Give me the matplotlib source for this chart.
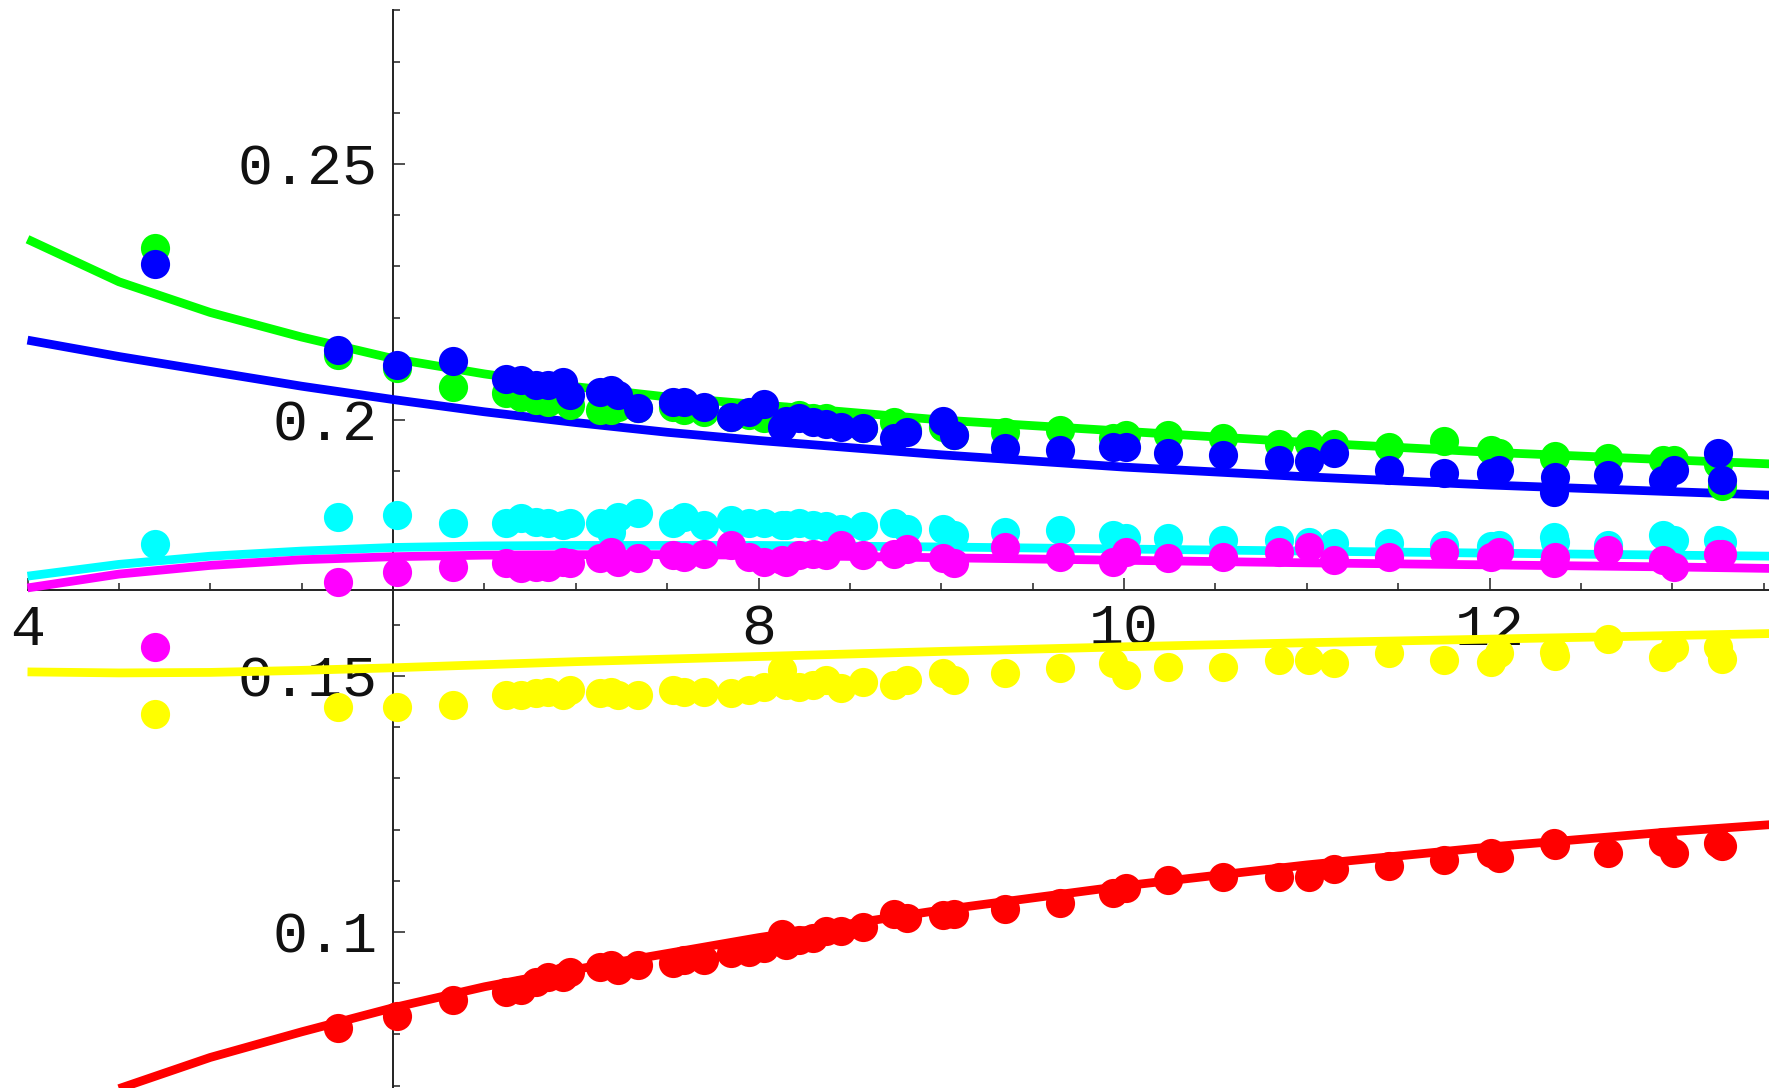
import numpy as np
import matplotlib as mpl
import matplotlib.pyplot as plt
from matplotlib.ticker import FixedLocator, MultipleLocator, FixedFormatter

'''
coupling fits: measured points and fitted curves for the six channels.
'''

# measured points (shared x, one list per channel)
xs = [4.70, 5.70, 6.02, 6.33, 6.62, 6.70, 6.78, 6.85, 6.93, 6.97,
      7.13, 7.19, 7.23, 7.34, 7.53, 7.59, 7.70, 7.85, 7.95, 8.03,
      8.13, 8.15, 8.22, 8.30, 8.37, 8.45, 8.57, 8.74, 8.81, 9.01,
      9.07, 9.35, 9.65, 9.94, 10.01, 10.24, 10.54, 10.85, 11.01, 11.15,
      11.45, 11.75, 12.01, 12.05, 12.35, 12.36, 12.65, 12.95, 13.01, 13.25,
      13.27]

green_pts = [0.2336, 0.2127, 0.2101, 0.2065, 0.2052, 0.2045, 0.2039, 0.2036, 0.2045, 0.2029,
             0.2019, 0.2019, 0.2026, 0.2023, 0.2026, 0.2019, 0.2016, 0.2006, 0.2010, 0.2003,
             0.1997, 0.2006, 0.2010, 0.2003, 0.2003, 0.1997, 0.1984, 0.1997, 0.1980, 0.1987,
             0.1971, 0.1977, 0.1980, 0.1964, 0.1971, 0.1971, 0.1964, 0.1954, 0.1954, 0.1954,
             0.1948, 0.1958, 0.1941, 0.1935, 0.1925, 0.1930, 0.1925, 0.1922, 0.1922, 0.1915,
             0.1871]

blue_pts = [0.2305, 0.2137, 0.2107, 0.2116, 0.2081, 0.2078, 0.2068, 0.2068, 0.2075, 0.2049,
            0.2055, 0.2058, 0.2049, 0.2023, 0.2036, 0.2036, 0.2026, 0.2006, 0.2016, 0.2032,
            0.1987, 0.1999, 0.2003, 0.1997, 0.1993, 0.1987, 0.1984, 0.1964, 0.1977, 0.1999,
            0.1971, 0.1945, 0.1941, 0.1948, 0.1948, 0.1935, 0.1932, 0.1922, 0.1919, 0.1935,
            0.1902, 0.1896, 0.1896, 0.1902, 0.1860, 0.1889, 0.1893, 0.1883, 0.1902, 0.1935,
            0.1883]

cyan_pts = [0.1758, 0.1811, 0.1814, 0.1798, 0.1799, 0.1808, 0.1801, 0.1798, 0.1795, 0.1798,
            0.1798, 0.1782, 0.1811, 0.1818, 0.1798, 0.1811, 0.1795, 0.1805, 0.1798, 0.1798,
            0.1795, 0.1795, 0.1798, 0.1795, 0.1792, 0.1788, 0.1792, 0.1798, 0.1788, 0.1788,
            0.1775, 0.1782, 0.1785, 0.1775, 0.1769, 0.1769, 0.1766, 0.1766, 0.1762, 0.1759,
            0.1759, 0.1756, 0.1753, 0.1756, 0.1772, 0.1762, 0.1756, 0.1775, 0.1766, 0.1766,
            0.1762]

magenta_pts = [0.1557, 0.1684, 0.1704, 0.1713, 0.1720, 0.1710, 0.1713, 0.1713, 0.1723, 0.1720,
               0.1730, 0.1743, 0.1723, 0.1730, 0.1736, 0.1733, 0.1739, 0.1756, 0.1733, 0.1723,
               0.1726, 0.1723, 0.1736, 0.1739, 0.1736, 0.1756, 0.1736, 0.1739, 0.1749, 0.1730,
               0.1720, 0.1752, 0.1733, 0.1723, 0.1743, 0.1730, 0.1733, 0.1743, 0.1752, 0.1727,
               0.1733, 0.1743, 0.1733, 0.1743, 0.1720, 0.1733, 0.1746, 0.1727, 0.1713, 0.1739,
               0.1739]

yellow_pts = [0.1426, 0.1440, 0.1439, 0.1443, 0.1463, 0.1463, 0.1466, 0.1469, 0.1463, 0.1473,
              0.1466, 0.1469, 0.1463, 0.1463, 0.1473, 0.1469, 0.1469, 0.1466, 0.1473, 0.1479,
              0.1512, 0.1482, 0.1479, 0.1482, 0.1492, 0.1476, 0.1489, 0.1482, 0.1492, 0.1505,
              0.1492, 0.1505, 0.1515, 0.1525, 0.1502, 0.1518, 0.1518, 0.1531, 0.1531, 0.1525,
              0.1544, 0.1531, 0.1528, 0.1544, 0.1547, 0.1540, 0.1573, 0.1538, 0.1554, 0.1557,
              0.1534]

red_pts = [np.nan, 0.0812, 0.0835, 0.0867, 0.0883, 0.0887, 0.0903, 0.0913, 0.0913, 0.0922,
           0.0932, 0.0936, 0.0926, 0.0936, 0.0939, 0.0945, 0.0945, 0.0958, 0.0961, 0.0968,
           0.0997, 0.0975, 0.0984, 0.0988, 0.1001, 0.1001, 0.1010, 0.1036, 0.1027, 0.1033,
           0.1036, 0.1045, 0.1056, 0.1076, 0.1085, 0.1102, 0.1108, 0.1108, 0.1108, 0.1124,
           0.1128, 0.1141, 0.1154, 0.1144, 0.1173, 0.1170, 0.1154, 0.1176, 0.1154, 0.1173,
           0.1168]

# fitted curves
curve_x = [4.0, 4.5, 5.0, 5.5, 6.0, 6.5, 7.0, 7.5, 8.0, 9.0, 10.0, 11.0, 12.0, 13.0, 13.55]
green_fit = [0.2353, 0.2270, 0.2210, 0.2162, 0.2120, 0.2090, 0.2065, 0.2045, 0.2030,
             0.2000, 0.1978, 0.1956, 0.1937, 0.1922, 0.1914]
blue_fit = [0.2156, 0.2124, 0.2095, 0.2066, 0.2040, 0.2016, 0.1995, 0.1976, 0.1960,
            0.1932, 0.1908, 0.1889, 0.1873, 0.1860, 0.1853]
cyan_fit = [0.1695, 0.1718, 0.1734, 0.1744, 0.1751, 0.1754, 0.1755, 0.1755, 0.1755,
            0.1752, 0.1748, 0.1744, 0.1740, 0.1736, 0.1734]
magenta_fit = [0.1672, 0.1699, 0.1716, 0.1727, 0.1733, 0.1736, 0.1737, 0.1737, 0.1736,
               0.1731, 0.1726, 0.1721, 0.1717, 0.1713, 0.1710]
yellow_fit = [0.1508, 0.1506, 0.1507, 0.1511, 0.1516, 0.1522, 0.1528, 0.1533, 0.1538,
              0.1548, 0.1557, 0.1565, 0.1572, 0.1579, 0.1583]
red_fit = [np.nan, 0.0694, 0.0755, 0.0805, 0.0852, 0.0893, 0.0927, 0.0958, 0.0989,
           0.1043, 0.1090, 0.1131, 0.1166, 0.1196, 0.1210]

x_ticks = [4, 6, 8, 10, 12]
x_labels = ['4', '', '8', '10', '12']
y_ticks = [0.1, 0.15, 0.2, 0.25]
y_labels = ['0.1', '0.15', '0.2', '0.25']


def draw_axes ( ax ):
    ''' mathematica-style axes crossing at (6, 1/6). '''
    ax.set_xlim(3.8495, 13.529)
    ax.set_ylim(0.06953, 0.28203)

    for side in ['top', 'right']:
        ax.spines[side].set_color('none')
    ax.spines['left'].set_position(('data', 6))
    ax.spines['bottom'].set_position(('data', 0.1667))
    ax.spines['left'].set_bounds(0.06953, 0.2801)
    ax.spines['bottom'].set_bounds(4, 13.529)
    for side in ['left', 'bottom']:
        ax.spines[side].set_linewidth(1.4)
        ax.spines[side].set_color('#222222')

    ax.xaxis.set_major_locator(FixedLocator(x_ticks))
    ax.xaxis.set_major_formatter(FixedFormatter(x_labels))
    ax.xaxis.set_minor_locator(MultipleLocator(0.5))
    ax.yaxis.set_major_locator(FixedLocator(y_ticks))
    ax.yaxis.set_major_formatter(FixedFormatter(y_labels))
    ax.yaxis.set_minor_locator(MultipleLocator(0.01))

    ax.tick_params(which='both', direction='in', color='#222222', width=1.1)
    ax.tick_params(which='major', length=8.5)
    ax.tick_params(which='minor', length=5)
    ax.tick_params(axis='x', which='major', pad=9)
    ax.tick_params(axis='y', which='major', pad=11)
    for lab in ax.get_xticklabels() + ax.get_yticklabels():
        lab.set_fontfamily('Liberation Mono')
        lab.set_fontsize(42)
        lab.set_color('#111111')


def draw_series ( ax ):
    ''' fitted curves underneath, measured points on top. '''
    series = [(green_fit, green_pts, '#00ff00'),
              (blue_fit, blue_pts, '#0000ff'),
              (cyan_fit, cyan_pts, '#00ffff'),
              (magenta_fit, magenta_pts, '#ff00ff'),
              (yellow_fit, yellow_pts, '#ffff00'),
              (red_fit, red_pts, '#ff0000')]

    for fit, pts, col in series:
        ax.plot(curve_x, fit, '-', color=col, lw=6.3, zorder=3,
                solid_capstyle='butt')
    for fit, pts, col in series:
        ax.plot(xs, pts, 'o', color=col, ms=21, mew=0, zorder=4)


fig = plt.figure(figsize=(17.69, 10.88), dpi=100)
ax = fig.add_axes([0, 0, 1, 1])
ax.patch.set_facecolor('white')
draw_axes(ax)
draw_series(ax)

fig.savefig('out.png', dpi=100, facecolor='white')
